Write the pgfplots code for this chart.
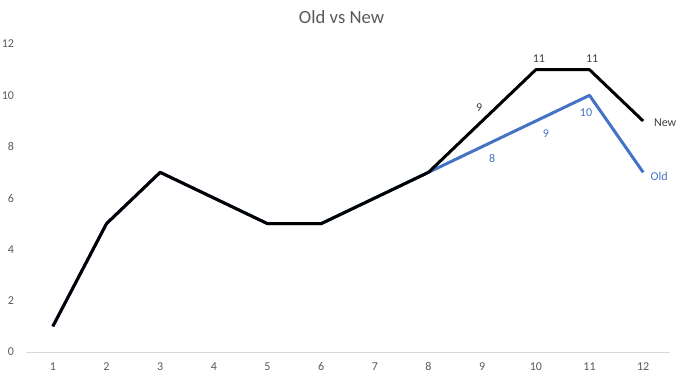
\documentclass[border=0pt]{standalone}
\usepackage{pgfplots}
\pgfplotsset{compat=1.18}
\usepackage{fontspec}
\setmainfont{Carlito}
\definecolor{oldblue}{HTML}{4472C4}
\definecolor{txtgray}{HTML}{595959}
\definecolor{lblgray}{HTML}{404040}
\definecolor{axgray}{HTML}{D9D9D9}
\pgfplotstableread{
x new old
1 1 1
2 5 5
3 7 7
4 6 6
5 5 5
6 5 5
7 6 6
8 7 7
9 9 8
10 11 9
11 11 10
12 9 7
}\datatable
\begin{document}
\begin{tikzpicture}
\path[use as bounding box] (0,0) rectangle (512.25pt,284.25pt);
\begin{axis}[
  at={(19.5pt,20.25pt)}, anchor=south west,
  scale only axis, width=483pt, height=231pt,
  xmin=0.5, xmax=12.5, ymin=0, ymax=12,
  xtick={1,...,12}, ytick={0,2,...,12},
  axis y line=none,
  axis x line*=bottom,
  x axis line style={draw=axgray, line width=0.75pt, -},
  major tick length=0pt,
  tick style={draw=none},
  tick label style={font=\fontsize{9}{10}\selectfont, text=txtgray},
  /pgf/number format/assume math mode=true,
  xticklabel style={yshift=-4.5pt},
  title={Old vs New},
  title style={font=\fontsize{14}{16}\selectfont, text=txtgray, at={(rel axis cs:0.49,1)}, anchor=center, yshift=14.5pt},
  clip=false,
]
\pgfplotsextra{
  \foreach \yy in {0,2,...,12} {
    \node[anchor=east, font=\fontsize{9}{10}\selectfont, text=txtgray] at (axis cs:0.5,\yy) [xshift=-5.5pt] {\yy};
  }
}
\addplot[oldblue, line width=2.25pt, line join=round] table[x=x, y=old] {\datatable};
\addplot[black, line width=2.25pt, line join=round] table[x=x, y=new] {\datatable};
\begin{scope}[font=\fontsize{9}{10}\selectfont]
\node[text=lblgray] at (axis cs:9,9) [xshift=-2.25pt, yshift=9.75pt] {9};
\node[text=lblgray] at (axis cs:10,11) [xshift=2.25pt, yshift=8pt] {11};
\node[text=lblgray] at (axis cs:11,11) [xshift=2pt, yshift=8pt] {11};
\node[text=lblgray] at (axis cs:12,9) [xshift=16.5pt, yshift=-1.5pt] {New};
\node[text=oldblue] at (axis cs:9,8) [xshift=7.5pt, yshift=-9pt] {8};
\node[text=oldblue] at (axis cs:10,9) [xshift=7.5pt, yshift=-9.5pt] {9};
\node[text=oldblue] at (axis cs:11,10) [xshift=-2.6pt, yshift=-12.75pt] {10};
\node[text=oldblue] at (axis cs:12,7) [xshift=12pt, yshift=-3pt] {Old};
\end{scope}
\end{axis}
\end{tikzpicture}
\end{document}
